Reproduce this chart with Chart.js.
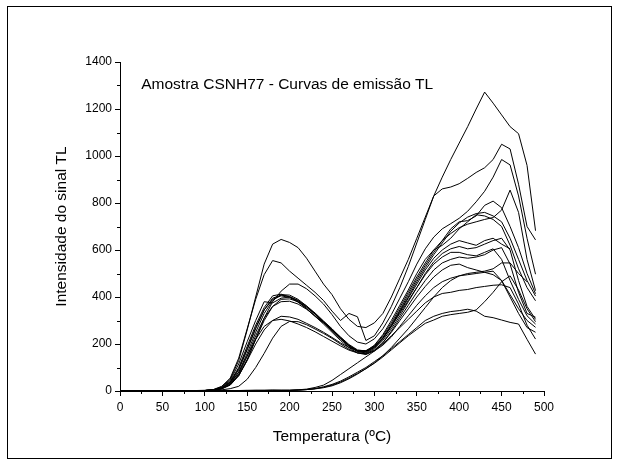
<!DOCTYPE html>
<html>
<head>
<meta charset="utf-8">
<script src="https://cdn.jsdelivr.net/npm/chart.js@4.4.0/dist/chart.umd.min.js"></script>
<style>
  body { margin: 0; background: #fff; }
  #wrap { position: relative; width: 619px; height: 464px; }
  #frame { position: absolute; left: 7px; top: 6px; width: 603px; height: 451px; border: 1px solid #000; pointer-events: none; }
</style>
</head>
<body>
<div id="wrap">
  <canvas id="tlChart" width="619" height="464"></canvas>
  <div id="frame"></div>
</div>
<script>
// Temperaturas (ºC)
const temps = [0,10,20,30,40,50,60,70,80,90,100,110,120,130,140,150,160,170,180,190,200,
  210,220,230,240,250,260,270,280,290,300,310,320,330,340,350,360,370,380,390,400,
  410,420,430,440,450,460,470,480,490];

// Curvas com pico em ~200 ºC
const curveA1 = [0,1,1,0,1,1,1,0,1,2,2, 5,18,50,130,260,400,540,625,645,632, 610,565,510,455,410,350,305,275,270,290, 330,400,480,560,650,740,830,910,985,1055, 1125,1200,1272,1225,1175,1125,1095,960,682];
const curveA2 = [0,1,0,1,1,0,1,1,1,1,2, 6,20,55,140,265,390,495,555,545,510, 480,450,420,385,340,300,330,316,215,235, 290,360,440,530,630,730,830,860,868,882, 905,930,950,985,1050,1030,880,700,643];
const curveA3 = [1,0,1,1,0,1,0,1,1,2,2, 4,12,28,65,130,220,310,380,425,455, 455,435,405,370,325,275,235,208,200,222, 265,325,395,465,540,605,655,690,712,735, 765,805,850,910,985,962,830,650,497];
const curveA4 = [0,1,1,1,0,1,1,1,2,1,2, 4,14,40,100,190,280,355,405,412,400, 380,352,318,290,262,230,198,175,170,192, 235,290,355,420,485,545,600,640,670,695, 710,720,730,738,770,855,760,560,427];
const curveA5 = [0,0,1,1,1,0,1,1,1,2,2, 3,10,30,80,160,250,330,385,410,408, 390,362,328,295,260,225,192,170,168,188, 228,282,345,410,475,535,590,640,690,720, 725,745,790,808,780,700,610,500,414];
const curveA6 = [1,1,0,1,1,1,0,1,1,1,2, 4,12,35,90,175,265,345,395,408,402, 385,358,326,292,258,222,190,168,165,185, 225,278,340,400,465,525,580,630,680,715, 740,755,760,745,720,650,560,470,404];
const curveA7 = [0,1,1,1,1,1,1,1,1,2,3, 5,16,45,115,210,300,380,375,395,400, 385,362,332,298,265,228,195,172,170,195, 240,300,365,430,500,560,600,620,650,690, 720,750,745,730,700,620,520,440,384];
const curveA8 = [0,1,0,1,0,1,1,1,1,1,2, 3,9,25,65,135,220,300,360,390,392, 380,357,328,296,262,226,192,168,162,180, 215,265,320,380,440,500,550,585,605,615, 605,610,625,640,650,600,470,360,305];
const curveA9 = [1,0,1,1,1,0,1,1,2,1,2, 3,10,28,72,148,235,310,360,380,382, 370,348,320,290,256,222,192,172,168,185, 222,275,335,395,455,515,565,600,625,640, 630,620,640,650,625,605,null,null,null];
const curveA10 = [0,1,1,0,1,1,1,1,1,2,2, 3,10,28,68,130,200,260,300,318,315, 305,288,270,250,228,205,185,172,172,190, 225,275,330,385,440,495,540,570,590,590, 580,575,590,605,560,470,390,320,285];
const curveA11 = [0,0,1,1,0,1,1,1,1,1,2, 4,13,35,80,150,220,275,300,305,298, 285,270,252,232,212,192,174,162,160,175, 205,250,300,350,400,445,485,515,535,540, 525,515,505,495,470,410,350,300,271];
const curveA12 = [0,1,0,0,1,1,0,1,1,1,1, 2,5,10,20,50,100,160,225,275,296, 295,282,264,245,224,200,178,163,158,170, 195,230,275,320,365,405,440,465,480,490, 495,500,505,510,470,400,330,270,250];
const curveA13 = [1,1,1,0,1,1,1,1,1,2,2, 4,13,38,95,180,270,345,390,405,398, 378,350,318,285,250,215,185,162,155,172, 205,255,310,365,420,470,515,545,560,570, 565,570,580,600,610,540,420,330,314];

// Curvas sem o pico de baixa temperatura
const curveB1 = [0,0,1,0,0,1,0,1,0,1, 1,1,1,2,2,2,2,2,3,3, 3,4,6,10,18,28,42,60,80,100, 125,150,180,210,240,270,300,318,330,338, 342,348,340,318,312,302,292,285,220,157];
const curveB2 = [0,1,0,0,1,0,1,0,1,0, 1,1,2,1,2,2,3,2,3,3, 3,4,6,10,16,25,38,55,75,95, 118,145,175,205,235,262,288,302,318,325, 330,335,345,380,420,465,490,430,350,295];
const curveB3 = [0,0,1,0,1,0,0,1,1,0, 1,1,1,2,2,2,3,3,3,3, 3,5,8,15,25,45,70,95,120,145, 170,200,235,270,305,340,375,400,415,420, 428,432,440,445,450,452,440,370,280,221];
const curveB4 = [1,0,0,1,0,1,0,0,1,1, 1,1,2,2,2,3,2,3,3,2, 2,4,6,9,14,22,35,52,72,95, 120,150,185,225,265,310,355,400,440,470, 490,500,505,510,520,545,545,500,465,null];

const curves = [curveA1, curveA2, curveA3, curveA4, curveA5, curveA6, curveA7, curveA8,
  curveA9, curveA10, curveA11, curveA12, curveA13, curveB1, curveB2, curveB3, curveB4];

const xTicks = [0, 50, 100, 150, 200, 250, 300, 350, 400, 450, 500];
const yTicks = [0, 200, 400, 600, 800, 1000, 1200, 1400];
const xMinor = [25, 75, 125, 175, 225, 275, 325, 375, 425, 475];
const yMinor = [100, 300, 500, 700, 900, 1100, 1300];

const FONT = "'Liberation Sans', Arial, sans-serif";

// ticks menores + texto da amostra
const extras = {
  id: 'extras',
  afterDraw(chart) {
    const c = chart.ctx;
    const xs = chart.scales.x, ys = chart.scales.y;
    const area = chart.chartArea;
    c.save();
    c.strokeStyle = '#000';
    c.lineWidth = 1;
    c.beginPath();
    xMinor.forEach(v => {
      const px = Math.round(xs.getPixelForValue(v)) + 0.5;
      c.moveTo(px, area.bottom);
      c.lineTo(px, area.bottom + 3);
    });
    yMinor.forEach(v => {
      const py = Math.round(ys.getPixelForValue(v)) + 0.5;
      c.moveTo(area.left, py);
      c.lineTo(area.left - 3, py);
    });
    c.stroke();
    c.fillStyle = '#000';
    c.font = '15.5px ' + FONT;
    c.textBaseline = 'middle';
    c.fillText('Amostra CSNH77 - Curvas de emissão TL', xs.getPixelForValue(25), ys.getPixelForValue(1305));
    c.restore();
  }
};

const ctx = document.getElementById('tlChart').getContext('2d');

new Chart(ctx, {
  type: 'line',
  data: {
    datasets: curves.map(vals => ({
      data: temps.map((t, i) => ({ x: t, y: vals[i] })),
      borderColor: '#000',
      borderWidth: 1,
      pointRadius: 0,
      tension: 0,
      fill: false,
      spanGaps: false
    }))
  },
  options: {
    responsive: false,
    animation: false,
    devicePixelRatio: 1,
    layout: { padding: { left: 0, right: 75, top: 62, bottom: 0 } },
    plugins: {
      legend: { display: false },
      tooltip: { enabled: false }
    },
    scales: {
      x: {
        type: 'linear',
        min: 0,
        max: 500,
        afterBuildTicks: s => { s.ticks = xTicks.map(v => ({ value: v })); },
        afterFit: s => { s.height = 73; },
        grid: { drawOnChartArea: false, drawTicks: true, tickLength: 5, tickColor: '#000' },
        border: { display: true, color: '#000', width: 1 },
        ticks: { color: '#000', padding: 4, maxRotation: 0, font: { family: FONT, size: 12 }, callback: v => String(v) },
        title: {
          display: true,
          text: 'Temperatura (ºC)',
          color: '#000',
          font: { family: FONT, size: 15.5 },
          padding: { top: 0, bottom: 18 }
        }
      },
      y: {
        type: 'linear',
        min: 0,
        max: 1400,
        afterBuildTicks: s => { s.ticks = yTicks.map(v => ({ value: v })); },
        afterFit: s => { s.width = 120; },
        grid: { drawOnChartArea: false, drawTicks: true, tickLength: 5, tickColor: '#000' },
        border: { display: true, color: '#000', width: 1 },
        ticks: { color: '#000', padding: 3, font: { family: FONT, size: 12 }, callback: v => String(v) },
        title: {
          display: true,
          text: 'Intensidade do sinal TL',
          color: '#000',
          font: { family: FONT, size: 15.5 },
          padding: { top: 52, bottom: 0 }
        }
      }
    }
  },
  plugins: [extras]
});
</script>
</body>
</html>
